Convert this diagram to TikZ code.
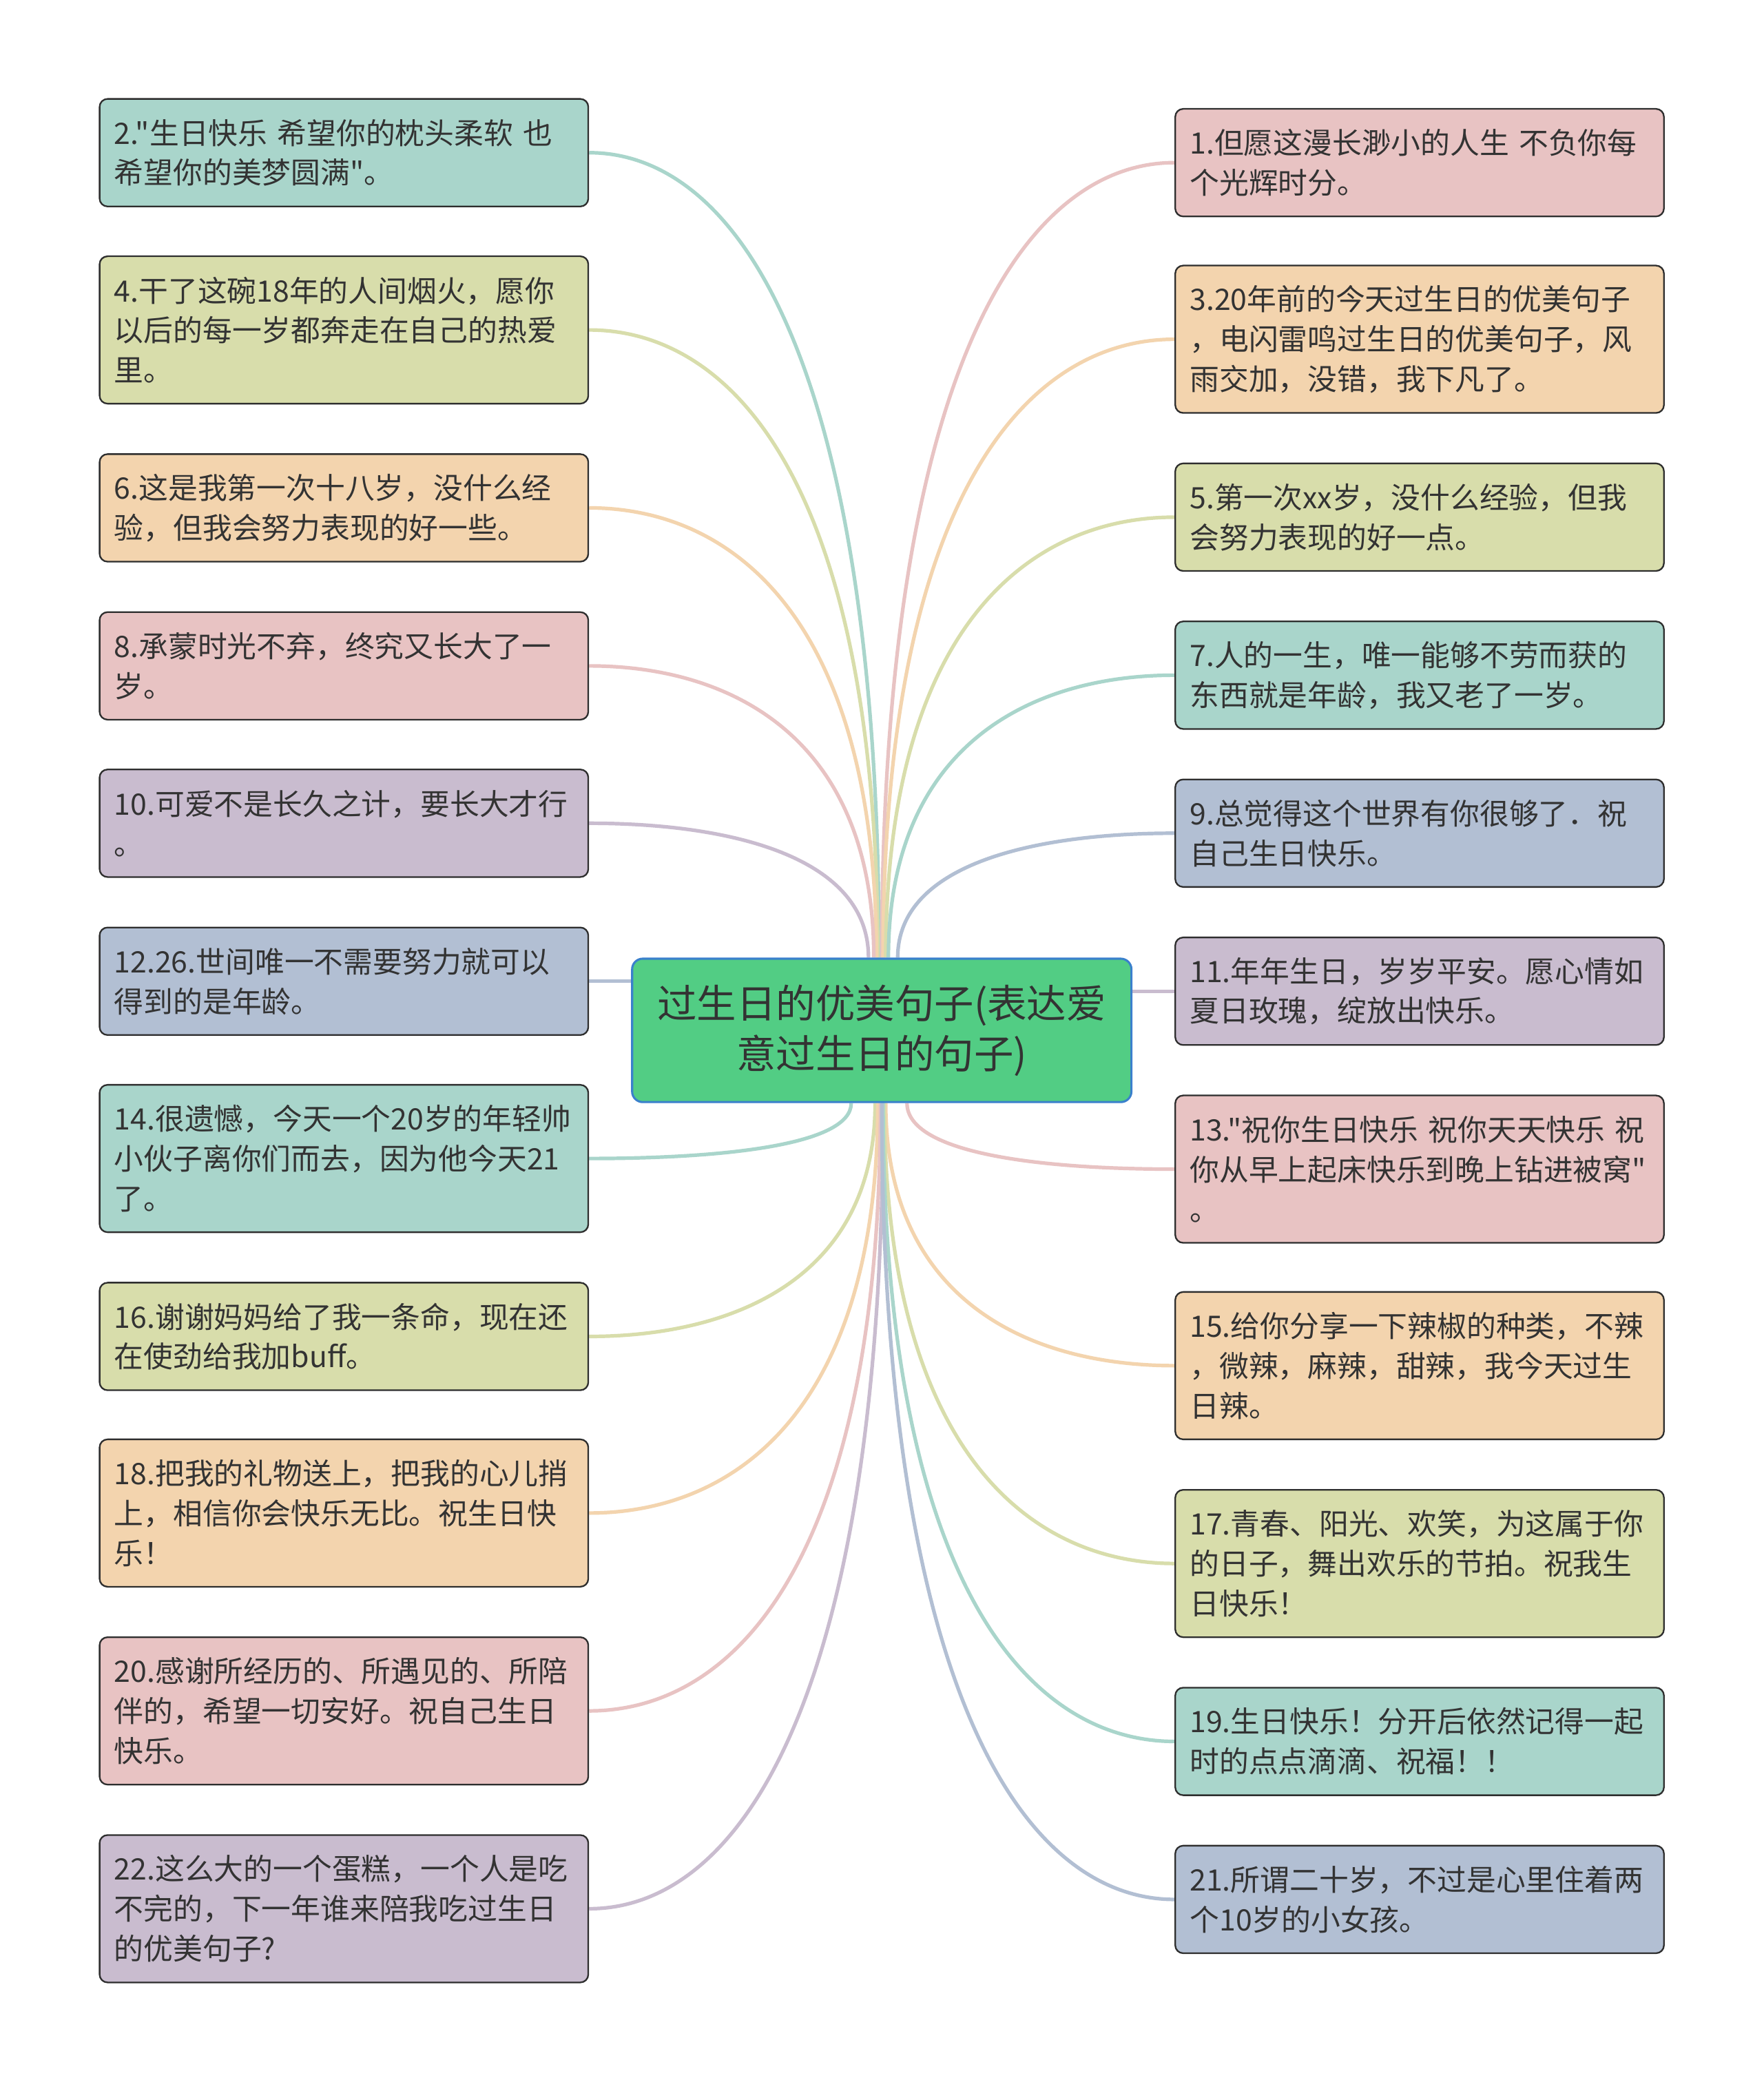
\documentclass[tikz,border=0pt]{standalone}
\usepackage{fontspec}
\setmainfont{Noto Sans CJK SC}
\newfontfamily\cjk{Noto Sans CJK SC}
\usetikzlibrary{backgrounds,calc}
\definecolor{cteal}{HTML}{A9D5CB}
\definecolor{colive}{HTML}{D8DDAB}
\definecolor{cpeach}{HTML}{F3D4AE}
\definecolor{cpink}{HTML}{E8C3C3}
\definecolor{clav}{HTML}{C9BCCF}
\definecolor{cblue}{HTML}{B2BFD3}
\definecolor{cgreen}{HTML}{52CD84}
\definecolor{cedge}{HTML}{3A80CC}
\definecolor{cborder}{HTML}{2E2E2E}
\definecolor{ctext}{HTML}{333333}
\tikzset{
  leaf/.style={draw=cborder, line width=0.6pt, rounded corners=3pt,
    minimum width=184pt, text width=173pt, inner xsep=5.5pt, inner ysep=0pt,
    align=left, font=\cjk\fontsize{11.1pt}{15pt}\selectfont, text=ctext},
  leaftwo/.style={leaf, minimum height=40.5pt},
  leafthree/.style={leaf, minimum height=55.5pt},
  root/.style={draw=cedge, fill=cgreen, line width=0.8pt, rounded corners=4pt,
    minimum width=188pt, minimum height=54pt, inner sep=0pt, align=center,
    font=\cjk\fontsize{14.9pt}{19pt}\selectfont, text=ctext},
  link/.style={line width=1.35pt}
}
\begin{document}
\begin{tikzpicture}[x=0.5pt,y=-0.5pt]
\useasboundingbox (0,0) rectangle (1328,1568);
% central topic
\node[root] (c) at (664,776) {过生日的优美句子(表达爱\\意过生日的句子)};
% left column
\node[leaftwo,fill=cteal] (n2) at (259,115) {2."生日快乐~希望你的枕头柔软~也\\希望你的美梦圆满"。};
\node[leafthree,fill=colive] (n4) at (259,248.5) {4.干了这碗18年的人间烟火，愿你\\以后的每一岁都奔走在自己的热爱\\里。};
\node[leaftwo,fill=cpeach] (n6) at (259,382.5) {6.这是我第一次十八岁，没什么经\\验，但我会努力表现的好一些。};
\node[leaftwo,fill=cpink] (n8) at (259,501.5) {8.承蒙时光不弃，终究又长大了一\\岁。};
\node[leaftwo,fill=clav] (n10) at (259,620) {10.可爱不是长久之计，要长大才行\\。};
\node[leaftwo,fill=cblue] (n12) at (259,739) {12.26.世间唯一不需要努力就可以\\得到的是年龄。};
\node[leafthree,fill=cteal] (n14) at (259,872.5) {14.很遗憾，今天一个20岁的年轻帅\\小伙子离你们而去，因为他今天21\\了。};
\node[leaftwo,fill=colive] (n16) at (259,1006.5) {16.谢谢妈妈给了我一条命，现在还\\在使劲给我加buff。};
\node[leafthree,fill=cpeach] (n18) at (259,1139.5) {18.把我的礼物送上，把我的心儿捎\\上，相信你会快乐无比。祝生日快\\乐！};
\node[leafthree,fill=cpink] (n20) at (259,1288.5) {20.感谢所经历的、所遇见的、所陪\\伴的，希望一切安好。祝自己生日\\快乐。};
\node[leafthree,fill=clav] (n22) at (259,1437.5) {22.这么大的一个蛋糕，一个人是吃\\不完的，下一年谁来陪我吃过生日\\的优美句子?};
% right column
\node[leaftwo,fill=cpink] (n1) at (1069,122.5) {1.但愿这漫长渺小的人生~不负你每\\个光辉时分。};
\node[leafthree,fill=cpeach] (n3) at (1069,255.5) {3.20年前的今天过生日的优美句子\\，电闪雷鸣过生日的优美句子，风\\雨交加，没错，我下凡了。};
\node[leaftwo,fill=colive] (n5) at (1069,389.5) {5.第一次xx岁，没什么经验，但我\\会努力表现的好一点。};
\node[leaftwo,fill=cteal] (n7) at (1069,508.5) {7.人的一生，唯一能够不劳而获的\\东西就是年龄，我又老了一岁。};
\node[leaftwo,fill=cblue] (n9) at (1069,627.5) {9.总觉得这个世界有你很够了．祝\\自己生日快乐。};
\node[leaftwo,fill=clav] (n11) at (1069,746.5) {11.年年生日，岁岁平安。愿心情如\\夏日玫瑰，绽放出快乐。};
\node[leafthree,fill=cpink] (n13) at (1069,880.5) {13."祝你生日快乐~祝你天天快乐~祝\\你从早上起床快乐到晚上钻进被窝"\\。};
\node[leafthree,fill=cpeach] (n15) at (1069,1028.5) {15.给你分享一下辣椒的种类，不辣\\，微辣，麻辣，甜辣，我今天过生\\日辣。};
\node[leafthree,fill=colive] (n17) at (1069,1177.5) {17.青春、阳光、欢笑，为这属于你\\的日子，舞出欢乐的节拍。祝我生\\日快乐！};
\node[leaftwo,fill=cteal] (n19) at (1069,1311.5) {19.生日快乐！分开后依然记得一起\\时的点点滴滴、祝福！！};
\node[leaftwo,fill=cblue] (n21) at (1069,1430.5) {21.所谓二十岁，不过是心里住着两\\个10岁的小女孩。};
% connectors
\begin{scope}[on background layer]
\fill[white] (0,0) rectangle (1328,1568);
% left, upper
\draw[link,cteal]  (n2.east)  .. controls +(109.5,0) and +(0,-455)   .. ($(c.north)+(-2,0)$);
\draw[link,colive] (n4.east)  .. controls +(109,0)   and +(0,-355)   .. ($(c.north)+(-3,0)$);
\draw[link,cpeach] (n6.east)  .. controls +(108.5,0) and +(0,-254.6) .. ($(c.north)+(-4,0)$);
\draw[link,cpink]  (n8.east)  .. controls +(107.5,0) and +(0,-165.4) .. ($(c.north)+(-6,0)$);
\draw[link,clav]   (n10.east) .. controls +(105.5,0) and +(0,-76.5)  .. ($(c.north)+(-10,0)$);
\draw[link,cblue]  (n12.east) -- (n12.east -| c.west);
% left, lower
\draw[link,cteal]  (n14.east) .. controls +(99,0)    and +(0,31.9)   .. ($(c.south)+(-23,0)$);
\draw[link,colive] (n16.east) .. controls +(108,0)   and +(0,132.4)  .. ($(c.south)+(-5,0)$);
\draw[link,cpeach] (n18.east) .. controls +(109,0)   and +(0,232.1)  .. ($(c.south)+(-3,0)$);
\draw[link,cpink]  (n20.east) .. controls +(110,0)   and +(0,343.9)  .. ($(c.south)+(-1,0)$);
\draw[link,clav]   (n22.east) .. controls +(111,0)   and +(0,455.6)  .. ($(c.south)+(1,0)$);
% right, upper
\draw[link,cpink]  (n1.west)  .. controls +(-110.5,0) and +(0,-449.6) .. ($(c.north)+(0,0)$);
\draw[link,cpeach] (n3.west)  .. controls +(-110,0)   and +(0,-349.9) .. ($(c.north)+(1,0)$);
\draw[link,colive] (n5.west)  .. controls +(-109,0)   and +(0,-249.4) .. ($(c.north)+(3,0)$);
\draw[link,cteal]  (n7.west)  .. controls +(-108,0)   and +(0,-160.1) .. ($(c.north)+(5,0)$);
\draw[link,cblue]  (n9.west)  .. controls +(-104.5,0) and +(0,-70.9)  .. ($(c.north)+(12,0)$);
\draw[link,clav]   (n11.west) -- (n11.west -| c.east);
% right, lower
\draw[link,cpink]  (n13.west) .. controls +(-101,0)   and +(0,37.9)   .. ($(c.south)+(19,0)$);
\draw[link,cpeach] (n15.west) .. controls +(-109,0)   and +(0,148.9)  .. ($(c.south)+(3,0)$);
\draw[link,colive] (n17.west) .. controls +(-109.5,0) and +(0,260.6)  .. ($(c.south)+(2,0)$);
\draw[link,cteal]  (n19.west) .. controls +(-110,0)   and +(0,361.1)  .. ($(c.south)+(1,0)$);
\draw[link,cblue]  (n21.west) .. controls +(-110.5,0) and +(0,450.4)  .. ($(c.south)+(0,0)$);
\end{scope}
\end{tikzpicture}
\end{document}
